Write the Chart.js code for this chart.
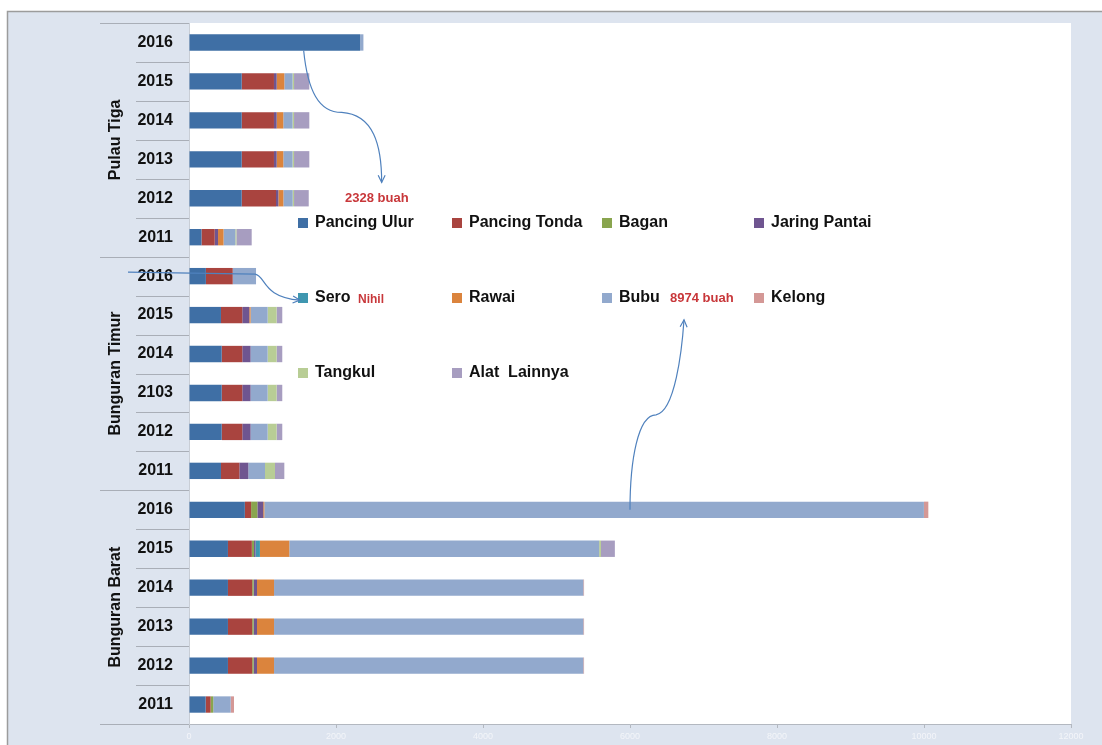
<!DOCTYPE html>
<html>
<head>
<meta charset="utf-8">
<script src="https://cdn.jsdelivr.net/npm/chart.js@4.4.1/dist/chart.umd.min.js"></script>
<style>
  html, body { margin: 0; padding: 0; background: #fff; }
  canvas { display: block; }
</style>
</head>
<body>
<canvas id="alatTangkap" width="1102" height="745"></canvas>
<script>
// rows top to bottom, six years per kecamatan
const rowLabels = ['2016', '2015', '2014', '2013', '2012', '2011',
                   '2016', '2015', '2014', '2103', '2012', '2011',
                   '2016', '2015', '2014', '2013', '2012', '2011'];
const groupLabels = ['Pulau Tiga', 'Bunguran Timur', 'Bunguran Barat'];
const rowsPerGroup = 6;

const seriesNames = ['Pancing Ulur', 'Pancing Tonda', 'Bagan', 'Jaring Pantai', 'Sero',
                     'Rawai', 'Bubu', 'Kelong', 'Tangkul', 'Alat  Lainnya'];

const pancingUlur  = [2328, 717, 717, 717, 717, 170,  230, 435, 445, 445, 445, 435,  760, 530, 530, 530, 530, 227];
const pancingTonda = [0, 439, 439, 439, 467, 180,     365, 290, 280, 280, 280, 250,  85, 325, 330, 330, 330, 67];
const bagan        = [0, 0, 0, 0, 0, 0,               0, 0, 0, 0, 0, 0,              85, 30, 20, 20, 20, 36];
const jaringPantai = [0, 37, 37, 37, 32, 45,          0, 95, 113, 113, 113, 122,     80, 20, 45, 45, 45, 0];
const sero         = [0, 0, 0, 0, 0, 0,               0, 0, 0, 0, 0, 0,              0, 60, 0, 0, 0, 0];
const rawai        = [0, 104, 90, 90, 68, 75,         0, 18, 0, 0, 0, 0,             15, 400, 232, 232, 232, 0];
const bubu         = [45, 112, 126, 126, 127, 160,    317, 232, 232, 232, 232, 227,  8974, 4215, 4208, 4208, 4208, 237];
const kelong       = [0, 0, 0, 0, 0, 0,               0, 0, 0, 0, 0, 0,              60, 0, 10, 10, 10, 45];
const tangkul      = [0, 20, 20, 20, 18, 15,          0, 122, 122, 122, 122, 136,    0, 25, 0, 0, 0, 0];
const alatLainnya  = [0, 208, 208, 208, 200, 208,     0, 77, 77, 77, 77, 127,        0, 189, 0, 0, 0, 0];

const xMax = 12000;
const xStep = 2000;

const seriesValues = [pancingUlur, pancingTonda, bagan, jaringPantai, sero,
                      rawai, bubu, kelong, tangkul, alatLainnya];
const seriesColors = ['#3f6fa5', '#a9443f', '#89a54e', '#6f5590', '#3f97b0',
                      '#db843d', '#92a9cd', '#d49896', '#b8cd95', '#a79dc0'];

const FONT = "'Liberation Sans', Arial, sans-serif";
const RED = '#c8373a';
const ARROW = '#4f81bd';

Chart.defaults.font.family = FONT;

// light panel behind everything, white plot area
const backdrop = {
  id: 'backdrop',
  beforeDraw(chart) {
    const { ctx, chartArea: a, width, height } = chart;
    ctx.save();
    ctx.fillStyle = '#ffffff';
    ctx.fillRect(0, 0, width, height);
    ctx.fillStyle = '#dde4ef';
    ctx.fillRect(7, 11, width - 7, height - 11);
    ctx.strokeStyle = '#9c9c9c';
    ctx.lineWidth = 1.5;
    ctx.beginPath();
    ctx.moveTo(7.5, height);
    ctx.lineTo(7.5, 11.5);
    ctx.lineTo(width, 11.5);
    ctx.stroke();
    ctx.fillStyle = '#ffffff';
    ctx.fillRect(a.left, a.top, a.right - a.left, a.bottom - a.top);
    ctx.restore();
  }
};

function arrowHead(ctx, x, y, angle) {
  const len = 8, spread = 0.45;
  ctx.beginPath();
  ctx.moveTo(x - len * Math.cos(angle - spread), y - len * Math.sin(angle - spread));
  ctx.lineTo(x, y);
  ctx.lineTo(x - len * Math.cos(angle + spread), y - len * Math.sin(angle + spread));
  ctx.stroke();
}

// group labels, row separators, legend grid and the callouts
const decorations = {
  id: 'decorations',
  afterDraw(chart) {
    const { ctx, chartArea: a, scales } = chart;
    const ys = scales.y, xs = scales.x;
    const rowY = i => ys.getPixelForValue(i);
    const half = (rowY(1) - rowY(0)) / 2;
    ctx.save();

    // separators in the label column
    ctx.strokeStyle = '#a9aeb7';
    ctx.lineWidth = 1;
    for (let i = 0; i <= rowLabels.length; i++) {
      const y = Math.round(i < rowLabels.length ? rowY(i) - half : rowY(i - 1) + half) + 0.5;
      const isGroupEdge = i % rowsPerGroup === 0;
      ctx.beginPath();
      ctx.moveTo(isGroupEdge ? 100 : 136, y);
      ctx.lineTo(a.left, y);
      ctx.stroke();
    }

    // rotated kecamatan names
    ctx.fillStyle = '#111';
    ctx.font = 'bold 16px ' + FONT;
    ctx.textAlign = 'center';
    ctx.textBaseline = 'middle';
    groupLabels.forEach((g, k) => {
      const yMid = (rowY(k * rowsPerGroup) + rowY(k * rowsPerGroup + rowsPerGroup - 1)) / 2;
      ctx.save();
      ctx.translate(116, yMid);
      ctx.rotate(-Math.PI / 2);
      ctx.fillText(g, 0, 0);
      ctx.restore();
    });

    // legend laid out in four columns
    const legendCols = [298, 452, 602, 754];
    const legendRows = [223, 298, 373];
    ctx.textAlign = 'left';
    chart.data.datasets.forEach((ds, i) => {
      const x = legendCols[i % 4], y = legendRows[Math.floor(i / 4)];
      ctx.fillStyle = ds.backgroundColor;
      ctx.fillRect(x, y - 5, 10, 10);
      ctx.fillStyle = '#111';
      ctx.font = 'bold 16px ' + FONT;
      ctx.fillText(ds.label, x + 17, y);
    });

    // red notes
    ctx.fillStyle = RED;
    ctx.font = 'bold 13px ' + FONT;
    ctx.fillText(pancingUlur[0] + ' buah', 345, 198);
    ctx.fillText(bubu[12] + ' buah', 670, 298);
    ctx.font = 'bold 12px ' + FONT;
    ctx.fillText('Nihil', 358, 300);

    // callout arrows
    ctx.strokeStyle = ARROW;
    ctx.lineWidth = 1.2;

    // Pancing Ulur, Pulau Tiga 2016
    const s1x = xs.getPixelForValue(1560), s1y = rowY(0) + 8;
    ctx.beginPath();
    ctx.moveTo(s1x, s1y);
    ctx.bezierCurveTo(s1x + 4, s1y + 40, s1x + 15, s1y + 62, s1x + 38, s1y + 62);
    ctx.bezierCurveTo(s1x + 70, s1y + 64, s1x + 78, s1y + 95, s1x + 78, s1y + 132);
    ctx.stroke();
    arrowHead(ctx, s1x + 78, s1y + 132, Math.PI / 2);

    // Sero, Bunguran Timur 2016
    const s2y = rowY(6) - 4;
    ctx.beginPath();
    ctx.moveTo(128, s2y);
    ctx.lineTo(xs.getPixelForValue(900), s2y + 2);
    ctx.bezierCurveTo(xs.getPixelForValue(1050), s2y + 4, 262, s2y + 25, 300, s2y + 28);
    ctx.stroke();
    arrowHead(ctx, 300, s2y + 28, 0.08);

    // Bubu, Bunguran Barat 2016
    const s3x = xs.getPixelForValue(6000), s3y = rowY(12);
    ctx.beginPath();
    ctx.moveTo(s3x, s3y);
    ctx.bezierCurveTo(s3x, s3y - 50, s3x + 8, s3y - 95, s3x + 26, s3y - 95);
    ctx.bezierCurveTo(s3x + 45, s3y - 98, s3x + 52, s3y - 160, s3x + 54, s3y - 190);
    ctx.stroke();
    arrowHead(ctx, s3x + 54, s3y - 190, -Math.PI / 2 + 0.05);

    ctx.restore();
  }
};

new Chart(document.getElementById('alatTangkap'), {
  type: 'bar',
  data: {
    labels: rowLabels,
    datasets: seriesNames.map((name, i) => ({
      label: name,
      data: seriesValues[i],
      backgroundColor: seriesColors[i],
      borderWidth: 0,
      categoryPercentage: 1,
      barPercentage: 0.42
    }))
  },
  options: {
    indexAxis: 'y',
    responsive: false,
    animation: false,
    devicePixelRatio: 1,
    layout: { padding: { left: 99, right: 31, top: 23, bottom: 0 } },
    plugins: {
      legend: { display: false },
      tooltip: { enabled: false }
    },
    scales: {
      x: {
        stacked: true,
        min: 0,
        max: xMax,
        afterFit(scale) { scale.height = 21; },
        ticks: {
          stepSize: xStep,
          color: '#f3f5f9',
          font: { size: 9 },
          padding: 3,
          callback: v => String(v)
        },
        grid: { drawOnChartArea: false, drawTicks: true, tickLength: 4, color: '#b3b8c0' },
        border: { display: true, color: '#b3b8c0' }
      },
      y: {
        stacked: true,
        afterFit(scale) {
          scale.width = 90;
          // year labels sit inside their rows, no extra room needed above or below
          scale.paddingTop = 0;
          scale.paddingBottom = 0;
        },
        ticks: { color: '#111', font: { size: 16, weight: 'bold' }, padding: 16, autoSkip: false },
        grid: { drawOnChartArea: false, drawTicks: false },
        border: { display: true, color: '#c9ced6' }
      }
    }
  },
  plugins: [backdrop, decorations]
});
</script>
</body>
</html>
